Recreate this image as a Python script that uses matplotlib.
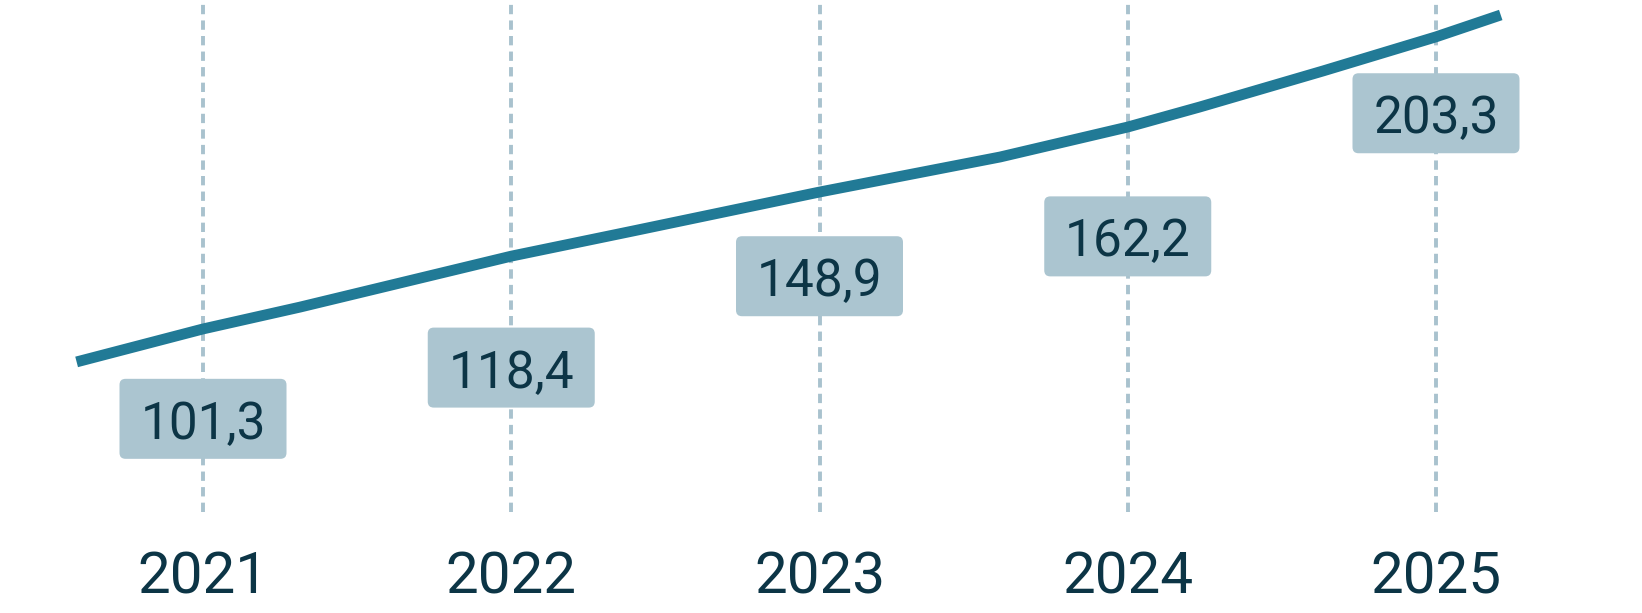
import matplotlib
matplotlib.use("Agg")
import matplotlib.pyplot as plt
from matplotlib.patches import FancyBboxPatch
from matplotlib.transforms import ScaledTranslation

# ---- data ----
years = ["2021", "2022", "2023", "2024", "2025"]
values = [101.3, 118.4, 148.9, 162.2, 203.3]
# decorative trend line (x in category units, y in value units)
trend_x = [-0.41, 0.0, 0.315, 1.0, 1.395, 2.0, 2.586, 3.0, 3.234, 3.633, 4.0, 4.21]
trend_y = [120.3, 131.3, 138.6, 155.6, 164.0, 177.0, 188.7, 198.7, 205.4, 217.4, 228.8, 236.1]

# ---- style ----
LINE_C = "#217a96"
BOX_C = "#abc5d0"
GRID_C = "#a9c2ce"
TEXT_C = "#0c3546"
FONT = ["Roboto", "DejaVu Sans"]

W, H = 1642, 613
fig = plt.figure(figsize=(W / 100, H / 100), dpi=100)
axes_h = 512 / H
ax = fig.add_axes([0, 1 - axes_h, 1, axes_h])
step = 308.25
ax.set_xlim(-203 / step, (W - 203) / step)
ax.set_ylim(70.2, 241.1)
ax.axis("off")

# dashed vertical guides
for i in range(len(years)):
    ax.axvline(i, color=GRID_C, lw=2.8, ls=(0, (2.4, 1.6)), zorder=1)

# trend line
ax.plot(trend_x, trend_y, color=LINE_C, lw=7.8, solid_capstyle="butt",
        solid_joinstyle="round", zorder=2)

# value boxes
bw, bh, r = 1.67, 0.80, 0.06
for i, v in enumerate(values):
    tr = fig.dpi_scale_trans + ScaledTranslation(i, v, ax.transData)
    p = FancyBboxPatch((-bw / 2 + r, -bh / 2 + r), bw - 2 * r, bh - 2 * r,
                       boxstyle=f"round,pad={r},rounding_size={r}",
                       transform=tr, fc=BOX_C, ec="none", zorder=3, clip_on=False)
    ax.add_patch(p)
    label = f"{v:.1f}".replace(".", ",")
    ax.annotate(label, xy=(i, v), xytext=(0, -20 * 0.72), textcoords="offset points",
                ha="center", va="baseline", fontsize=37, color=TEXT_C,
                family=FONT, zorder=4)

# year labels
for i, y in enumerate(years):
    ax.annotate(y, xy=(i, 0), xycoords=("data", "axes fraction"),
                xytext=(0, -81 * 0.72), textcoords="offset points",
                ha="center", va="baseline", fontsize=42, color=TEXT_C,
                family=FONT, annotation_clip=False)

fig.savefig("out.png", dpi=100)
